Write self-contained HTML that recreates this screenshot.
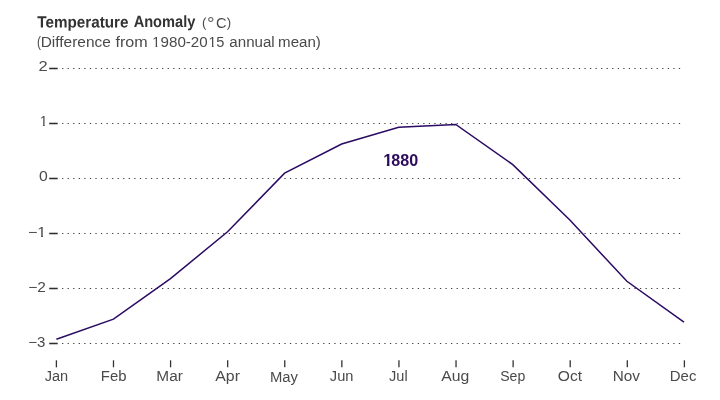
<!DOCTYPE html>
<html>
<head>
<meta charset="utf-8">
<title>Temperature Anomaly</title>
<style>
html,body{margin:0;padding:0;background:#fff;}
body{width:720px;height:400px;overflow:hidden;font-family:"Liberation Sans",sans-serif;}
svg{display:block;will-change:transform;}
text{font-family:"Liberation Sans",sans-serif;}
.grid{stroke:#3c3c3c;stroke-width:1;stroke-dasharray:1.25 4.307;fill:none;}
.tick{stroke:#2e2e2e;stroke-width:1.55;fill:none;}
.xtick{stroke:#333;stroke-width:1.3;fill:none;}
</style>
</head>
<body>
<svg width="720" height="400" viewBox="0 0 720 400">
<defs>
<clipPath id="c1980"><rect x="150.00" y="33.00" width="80.00" height="12.95"/><rect x="155.60" y="45.50" width="1.70" height="2.00"/><rect x="160.60" y="45.50" width="47.80" height="2.00"/><rect x="211.85" y="45.50" width="1.70" height="2.00"/><rect x="216.20" y="45.50" width="10.00" height="2.00"/></clipPath>
<clipPath id="cp1"><rect x="36.00" y="113.00" width="12.00" height="11.95"/><rect x="42.95" y="124.50" width="1.70" height="2.00"/></clipPath>
<clipPath id="cn1"><rect x="26.00" y="224.00" width="22.00" height="11.95"/><rect x="41.10" y="235.50" width="1.80" height="2.00"/></clipPath>
<clipPath id="c1880"><rect x="380.00" y="150.00" width="40.00" height="14.00"/><rect x="386.85" y="163.90" width="2.60" height="3.00"/><rect x="392.45" y="163.90" width="28.00" height="3.00"/></clipPath>
</defs>
<rect width="720" height="400" fill="#ffffff"/>
<!-- title -->
<text x="37.28" y="27.45" font-size="16.2" font-weight="bold" fill="#333333" textLength="91.17" lengthAdjust="spacingAndGlyphs" transform="rotate(0.03)">Temperature</text>
<text x="133.65" y="27.4" font-size="16.2" font-weight="bold" fill="#333333" textLength="61.75" lengthAdjust="spacingAndGlyphs" transform="rotate(0.03)">Anomaly</text>
<text x="202.1" y="26.9" font-size="13.2" fill="#4a4a4a" textLength="4.4" lengthAdjust="spacingAndGlyphs" transform="rotate(0.03)">(</text>
<text x="207.1" y="30" font-size="19" fill="#626262">°</text>
<text x="215.95" y="28.2" font-size="15" fill="#4a4a4a" textLength="10.6" lengthAdjust="spacingAndGlyphs">C</text>
<text x="226.7" y="26.8" font-size="13.2" fill="#4a4a4a" textLength="4.4" lengthAdjust="spacingAndGlyphs" transform="rotate(0.03)">)</text>
<!-- subtitle -->
<text x="37.1" y="46.9" font-size="14" fill="#4a4a4a" textLength="4.0" lengthAdjust="spacingAndGlyphs">(</text>
<text x="40.66" y="46.9" font-size="14" fill="#4a4a4a" textLength="70.16" lengthAdjust="spacingAndGlyphs">Difference</text>
<text x="115.51" y="46.9" font-size="14" fill="#4a4a4a" textLength="32.19" lengthAdjust="spacingAndGlyphs">from</text>
<text y="46.9" font-size="14" fill="#4a4a4a" clip-path="url(#c1980)"><tspan x="152.32">1</tspan><tspan x="160.52" textLength="47.22" lengthAdjust="spacingAndGlyphs">980-20</tspan><tspan x="208.57">1</tspan><tspan x="216.35" textLength="8.12" lengthAdjust="spacingAndGlyphs">5</tspan></text>
<text x="229.33" y="46.9" font-size="14" fill="#4a4a4a" textLength="45.37" lengthAdjust="spacingAndGlyphs">annual</text>
<text x="278.12" y="46.9" font-size="14" fill="#4a4a4a" textLength="42.75" lengthAdjust="spacingAndGlyphs">mean)</text>
<!-- gridlines -->
<g class="grid">
<line x1="62.05" y1="68.5" x2="680.3" y2="68.5"/>
<line x1="62.05" y1="123.5" x2="680.3" y2="123.5"/>
<line x1="62.05" y1="178.5" x2="680.3" y2="178.5"/>
<line x1="62.05" y1="233.5" x2="680.3" y2="233.5"/>
<line x1="62.05" y1="288.5" x2="680.3" y2="288.5"/>
<line x1="62.05" y1="343.5" x2="680.3" y2="343.5"/>
</g>
<!-- y ticks -->
<g class="tick">
<line x1="49.2" y1="68.5" x2="57.7" y2="68.5"/>
<line x1="49.2" y1="123.5" x2="57.7" y2="123.5"/>
<line x1="49.2" y1="178.5" x2="57.7" y2="178.5"/>
<line x1="49.2" y1="233.5" x2="57.7" y2="233.5"/>
<line x1="49.2" y1="288.5" x2="57.7" y2="288.5"/>
<line x1="49.2" y1="343.5" x2="57.7" y2="343.5"/>
</g>
<!-- y labels -->
<text x="38.52" y="71.0" font-size="14" fill="#4a4a4a" textLength="9.17" lengthAdjust="spacingAndGlyphs">2</text>
<text x="39.67" y="126" font-size="14" fill="#4a4a4a" clip-path="url(#cp1)">1</text>
<text x="38.94" y="181.0" font-size="14" fill="#4a4a4a" textLength="8.78" lengthAdjust="spacingAndGlyphs">0</text>
<text x="27.97" y="237" font-size="14" fill="#4a4a4a" textLength="18.18" lengthAdjust="spacingAndGlyphs" clip-path="url(#cn1)">−1</text>
<text x="28.17" y="292.0" font-size="14" fill="#4a4a4a" textLength="17.62" lengthAdjust="spacingAndGlyphs">−2</text>
<text x="28.19" y="347.0" font-size="14" fill="#4a4a4a" textLength="17.14" lengthAdjust="spacingAndGlyphs">−3</text>
<!-- x ticks -->
<g class="xtick">
<line x1="56.40" y1="360.3" x2="56.40" y2="367.3"/>
<line x1="113.49" y1="360.3" x2="113.49" y2="367.3"/>
<line x1="170.58" y1="360.3" x2="170.58" y2="367.3"/>
<line x1="227.67" y1="360.3" x2="227.67" y2="367.3"/>
<line x1="284.76" y1="360.3" x2="284.76" y2="367.3"/>
<line x1="341.85" y1="360.3" x2="341.85" y2="367.3"/>
<line x1="398.94" y1="360.3" x2="398.94" y2="367.3"/>
<line x1="456.03" y1="360.3" x2="456.03" y2="367.3"/>
<line x1="513.12" y1="360.3" x2="513.12" y2="367.3"/>
<line x1="570.21" y1="360.3" x2="570.21" y2="367.3"/>
<line x1="627.30" y1="360.3" x2="627.30" y2="367.3"/>
<line x1="684.39" y1="360.3" x2="684.39" y2="367.3"/>
</g>
<!-- x labels -->
<text x="44.74" y="381.0" font-size="14" fill="#4a4a4a" textLength="23.45" lengthAdjust="spacingAndGlyphs">Jan</text>
<text x="100.8" y="381.0" font-size="14" fill="#4a4a4a" textLength="25.66" lengthAdjust="spacingAndGlyphs">Feb</text>
<text x="156.36" y="381.0" font-size="14" fill="#4a4a4a" textLength="26.51" lengthAdjust="spacingAndGlyphs">Mar</text>
<text x="215.3" y="381.0" font-size="14" fill="#4a4a4a" textLength="24.64" lengthAdjust="spacingAndGlyphs">Apr</text>
<text x="269.91" y="382.0" font-size="14" fill="#4a4a4a" textLength="27.97" lengthAdjust="spacingAndGlyphs">May</text>
<text x="329.84" y="381.0" font-size="14" fill="#4a4a4a" textLength="23.56" lengthAdjust="spacingAndGlyphs">Jun</text>
<text x="389.04" y="381.0" font-size="14" fill="#4a4a4a" textLength="18.6" lengthAdjust="spacingAndGlyphs">Jul</text>
<text x="441.25" y="381.0" font-size="14" fill="#4a4a4a" textLength="28.09" lengthAdjust="spacingAndGlyphs">Aug</text>
<text x="500.17" y="381.0" font-size="14" fill="#4a4a4a" textLength="25.08" lengthAdjust="spacingAndGlyphs">Sep</text>
<text x="557.8" y="381.0" font-size="14" fill="#4a4a4a" textLength="24.27" lengthAdjust="spacingAndGlyphs">Oct</text>
<text x="612.77" y="381.0" font-size="14" fill="#4a4a4a" textLength="27.27" lengthAdjust="spacingAndGlyphs">Nov</text>
<text x="669.8" y="381.0" font-size="14" fill="#4a4a4a" textLength="26.64" lengthAdjust="spacingAndGlyphs">Dec</text>
<!-- data line -->
<polyline fill="none" stroke="#2b0a62" stroke-width="1.5" stroke-linejoin="miter" points="56.40,339.20 113.45,319.20 170.50,278.60 227.55,231.80 284.60,173.20 341.65,144.00 398.70,127.20 455.75,124.45 512.80,164.60 569.85,220.00 626.90,281.30 683.95,322.10"/>
<!-- year label -->
<text y="165.8" font-size="16.5" font-weight="bold" fill="#2d0b5c" clip-path="url(#c1880)"><tspan x="383.18">1</tspan><tspan x="391.26" textLength="26.88" lengthAdjust="spacingAndGlyphs">880</tspan></text>
</svg>
</body>
</html>
